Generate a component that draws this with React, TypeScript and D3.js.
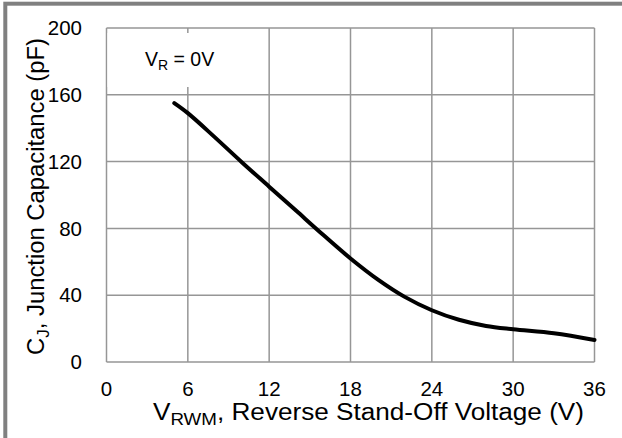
import React from "react";
import * as d3 from "d3";

const voltage = [5, 6, 8, 10, 12, 14, 16, 18, 20, 22, 24, 26, 28, 30, 33, 36];
const capacitance = [155, 149, 134.5, 119.5, 105, 90.5, 76, 62, 49.5, 39, 31, 25.3, 21.6, 19.6, 17.2, 13.2];
const xTicks = [0, 6, 12, 18, 24, 30, 36];
const yTicks = [0, 40, 80, 120, 160, 200];

const W = 622;
const H = 438;
const FONT = "'Liberation Sans', Arial, sans-serif";

export default function App() {
  const x = d3.scaleLinear().domain([0, 36]).range([106.5, 594.5]);
  const y = d3.scaleLinear().domain([0, 200]).range([362, 28]);
  const line = d3
    .line<number>()
    .x((_, i) => x(voltage[i]))
    .y((d) => y(d))
    .curve(d3.curveCatmullRom.alpha(0.5));
  const grid = "#969696";
  return (
    <svg
      width={W}
      height={H}
      style={{ position: "absolute", left: 0, top: 0, background: "#fff" }}
      fontFamily={FONT}
    >
      <rect x={5.3} y={3.7} width={800} height={800} fill="none" stroke="#808080" strokeWidth={4} />
      {xTicks.map((t) => (
        <line key={"gx" + t} x1={x(t)} x2={x(t)} y1={y(200)} y2={y(0)} stroke={grid} strokeWidth={1.5} />
      ))}
      {yTicks.map((t) => (
        <line key={"gy" + t} x1={x(0)} x2={x(36)} y1={y(t)} y2={y(t)} stroke={grid} strokeWidth={1.5} />
      ))}
      <rect x={x(0) + 1} y={33} width={110} height={54} fill="#fff" />
      <text x={145} y={66} fontSize={19.5} fill="#000">
        V<tspan fontSize={14} dy={4}>R</tspan>
        <tspan dy={-4}> = 0V</tspan>
      </text>
      <path d={line(capacitance) || ""} fill="none" stroke="#000" strokeWidth={4} strokeLinecap="round" />
      {yTicks.map((t) => (
        <text key={"ty" + t} x={82} y={y(t)} dy="0.35em" textAnchor="end" fontSize={20.5} fill="#000">
          {t}
        </text>
      ))}
      {xTicks.map((t) => (
        <text key={"tx" + t} x={x(t)} y={395.5} textAnchor="middle" fontSize={20.5} fill="#000">
          {t}
        </text>
      ))}
      <text
        x={368.5}
        y={420}
        textAnchor="middle"
        fontSize={23}
        fill="#000"
        textLength={431}
        lengthAdjust="spacingAndGlyphs"
      >
        V<tspan fontSize={16.5} dy={5}>RWM</tspan>
        <tspan dy={-5}>, Reverse Stand-Off Voltage (V)</tspan>
      </text>
      <text
        transform={`translate(44,196.5) rotate(-90)`}
        textAnchor="middle"
        fontSize={23}
        fill="#000"
        textLength={317}
        lengthAdjust="spacingAndGlyphs"
      >
        C<tspan fontSize={16.5} dy={5}>J</tspan>
        <tspan dy={-5}>, Junction Capacitance (pF)</tspan>
      </text>
    </svg>
  );
}
